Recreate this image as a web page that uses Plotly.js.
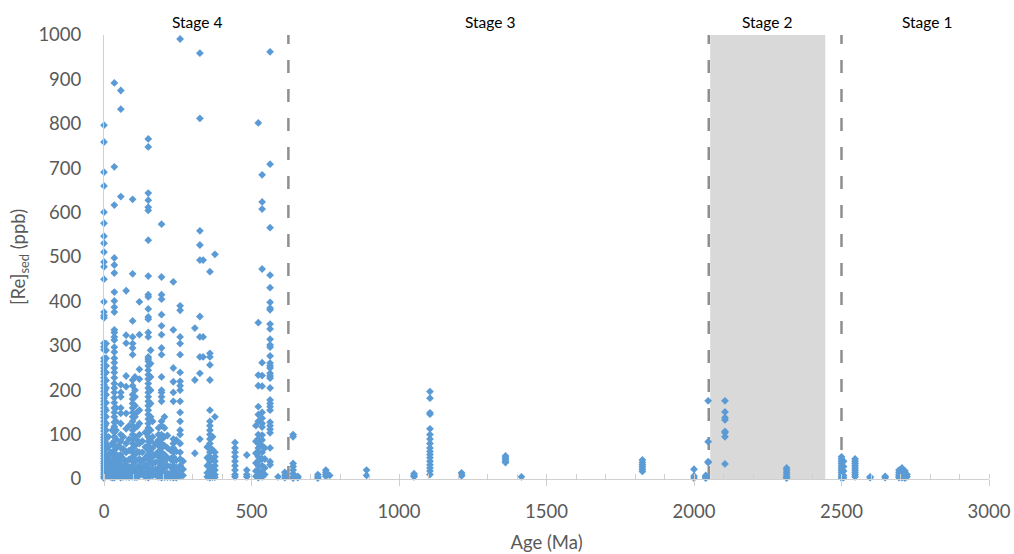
<!DOCTYPE html>
<html>
<head>
<meta charset="utf-8">
<script src="https://cdn.plot.ly/plotly-3.0.1.min.js"></script>
<style>html,body{margin:0;padding:0;background:#fff;}#chart{width:1014px;height:554px;}</style>
</head>
<body>
<div id="chart"></div>
<script>
// ---- Data: age (Ma) of each sample cluster and its [Re]sed values (ppb) ----
const stage4Ages = [0, 7, 35, 41, 57, 75, 97, 105, 120, 150, 158, 185, 195, 205, 235, 258, 308, 325, 336, 359, 376, 444, 484, 523, 536, 563,
                    3, 15, 22, 28, 48, 65, 85, 112, 130, 140, 165, 175, 215, 225, 245, 268, 350, 368, 515, 545];
const stage4Re = [
  [797, 759, 691, 660, 601, 576, 547, 531, 511, 489, 478, 450, 399, 376, 368, 363, 306, 298, 291, 272, 265, 257, 250, 243, 236, 228, 220, 212, 205, 197, 190, 182, 175, 168, 160, 152, 145, 138, 130, 122, 115, 108, 100, 94, 88, 82, 76, 70, 64, 58, 52, 46, 40, 35, 30, 25, 20, 15, 10, 5, 2],
  [305, 290, 272, 255, 240, 222, 205, 190, 172, 155, 140, 125, 110, 95, 80, 68, 55, 42, 30, 18, 8],
  [892, 703, 617, 498, 482, 464, 421, 401, 387, 376, 336, 330, 320, 313, 297, 286, 272, 262, 250, 240, 228, 215, 205, 195, 183, 172, 160, 150, 140, 128, 118, 105, 95, 85, 75, 65, 55, 45, 38, 30, 22, 15, 8, 3],
  [160, 130, 110, 90, 70, 55, 40, 28, 16, 6],
  [875, 833, 636, 212, 195, 185, 160, 148, 125, 100, 85, 70, 55, 42, 30, 20, 10, 3],
  [424, 324, 306, 232, 208, 148, 113, 80, 60, 40, 30, 20, 12, 5],
  [630, 462, 356, 320, 305, 295, 280, 223, 210, 190, 180, 170, 160, 150, 140, 130, 120, 110, 100, 90, 80, 70, 60, 50, 40, 30, 20, 12, 5],
  [230, 200, 185, 165, 140, 115, 95, 75, 55, 40, 25, 12, 4],
  [399, 325, 247, 225, 155, 125, 100, 80, 60, 45, 30, 18, 8],
  [766, 748, 644, 628, 612, 605, 538, 457, 415, 410, 383, 365, 360, 330, 320, 275, 270, 265, 255, 245, 235, 225, 215, 205, 195, 185, 175, 165, 155, 145, 135, 125, 115, 105, 95, 85, 75, 65, 55, 45, 35, 25, 15, 8, 3],
  [290, 260, 230, 200, 170, 140, 110, 85, 60, 40, 22, 8],
  [115, 100, 88, 75, 62, 50, 38, 25, 14, 5],
  [574, 455, 415, 405, 370, 345, 325, 295, 280, 230, 200, 195, 185, 175, 130, 120, 100, 90, 80, 70, 60, 50, 40, 30, 20, 10, 3],
  [140, 115, 95, 75, 55, 40, 25, 12, 4],
  [444, 336, 250, 219, 195, 175, 90, 80, 70, 60, 50, 40, 30, 20, 10, 3],
  [991, 390, 380, 320, 305, 280, 240, 220, 210, 200, 175, 150, 130, 110, 100, 80, 60, 45, 30, 18, 6],
  [340, 223, 58],
  [959, 812, 559, 527, 493, 366, 320, 275, 238, 90],
  [493, 320, 275],
  [467, 283, 275, 257, 223, 155, 130, 120, 110, 100, 90, 80, 70, 60, 50, 40, 30, 20, 10, 3],
  [506, 140, 60, 50, 40, 30, 20, 10, 4],
  [82, 70, 60, 50, 40, 30, 20, 10, 5],
  [54, 20, 10, 5],
  [802, 352, 234, 210, 163, 145, 130, 100, 90, 80, 70, 60, 50, 40, 30, 20, 10, 3],
  [685, 624, 608, 473, 262, 233, 209, 150, 137, 125, 117, 99, 88, 75, 60, 45, 30, 15, 5],
  [962, 709, 566, 459, 431, 398, 385, 381, 349, 338, 315, 302, 297, 277, 261, 255, 250, 238, 232, 227, 205, 178, 170, 163, 155, 128, 120, 112, 104, 70, 39, 32],
  [240, 200, 160, 120, 85, 55, 30, 12],
  [95, 72, 50, 33, 18, 6],
  [60, 42, 28, 15, 5],
  [110, 80, 58, 40, 24, 10, 3],
  [75, 52, 34, 20, 8],
  [95, 68, 46, 30, 16, 5],
  [120, 90, 64, 44, 28, 14, 4],
  [150, 118, 88, 62, 42, 26, 12, 4],
  [85, 60, 40, 24, 10],
  [105, 72, 48, 30, 15, 5],
  [130, 95, 70, 50, 34, 20, 8],
  [80, 56, 38, 22, 9],
  [98, 70, 48, 30, 14, 4],
  [65, 45, 28, 12, 4],
  [88, 62, 42, 26, 12, 3],
  [40, 22, 8],
  [72, 48, 30, 14, 5],
  [95, 66, 44, 26, 12, 4],
  [120, 85, 58, 36, 18, 6],
  [70, 45, 25, 10]
];
const stage3Ages = [590, 613, 641, 657, 725, 752, 765, 890, 1051, 1105, 1212, 1361, 1415, 1825, 2000, 2040, 2048];
const stage3Re = [
  [5],
  [15, 8, 3],
  [100, 95, 35, 28, 20, 12, 5, 2],
  [6, 3],
  [10, 5, 2],
  [20, 15, 10, 6],
  [8],
  [20, 8],
  [12, 8, 5],
  [197, 182, 149, 146, 113, 100, 90, 80, 70, 62, 55, 48, 40, 32, 25, 18, 10],
  [14, 10, 7],
  [52, 48, 44, 40, 37],
  [5],
  [43, 37, 32, 27, 22, 17],
  [22, 7, 2],
  [8, 5, 3, 2],
  [176, 84, 39, 37]
];
const stage2Ages = [2105, 2314];
const stage2Re = [
  [176, 151, 138, 133, 107, 104, 95, 34],
  [25, 20, 15, 10, 5, 2]
];
const stage1Ages = [2500, 2507, 2546, 2597, 2648, 2695, 2705, 2715, 2722];
const stage1Re = [
  [50, 45, 40, 35, 30, 25, 20, 15, 10, 5, 2],
  [40, 28, 18, 8, 3],
  [45, 40, 35, 30, 25, 20, 15, 10, 5],
  [5, 3],
  [6, 3],
  [20, 15, 10, 6, 3],
  [25, 18, 12, 7, 3],
  [18, 12, 6, 2],
  [10, 5]
];
const stageBoundaries = [625, 2050, 2500];   // Ma, dashed lines
const stage2Shade = [2055, 2445];            // Ma, grey band
const stageNames = ['Stage 4', 'Stage 3', 'Stage 2', 'Stage 1'];
const stageLabelAges = [315, 1308, 2247, 2790];
const xTicks = [0, 500, 1000, 1500, 2000, 2500, 3000];
const yTicks = [0, 100, 200, 300, 400, 500, 600, 700, 800, 900, 1000];

// ---- Build flat x/y ----
const xs = [], ys = [];
[[stage4Ages, stage4Re], [stage3Ages, stage3Re], [stage2Ages, stage2Re], [stage1Ages, stage1Re]].forEach(([ages, vals]) => {
  ages.forEach((a, i) => vals[i].forEach(v => { xs.push(a); ys.push(v); }));
});

const trace = {
  type: 'scatter', mode: 'markers', x: xs, y: ys, cliponaxis: false,
  marker: {symbol: 'diamond', size: 6, color: '#5B9BD5', line: {width: 0}},
  hoverinfo: 'x+y'
};

const shapes = [{
  type: 'rect', xref: 'x', yref: 'y', x0: stage2Shade[0], x1: stage2Shade[1], y0: 0, y1: 1000,
  fillcolor: '#d9d9d9', line: {width: 0}, layer: 'below'
}];
stageBoundaries.forEach(b => shapes.push({
  type: 'line', xref: 'x', yref: 'y', x0: b, x1: b, y0: 0, y1: 1000,
  line: {color: '#8f8f8f', width: 2.5, dash: '13px,16px'}, layer: 'below'
}));

const annotations = stageNames.map((n, i) => ({
  text: n, x: stageLabelAges[i], xref: 'x', y: 1.03, yref: 'paper',
  showarrow: false, xanchor: 'center', yanchor: 'middle',
  font: {family: 'Lato, sans-serif', size: 15.5, color: '#000'}
}));

const tickFont = {family: 'Lato, sans-serif', size: 18.5, color: '#595959'};
const layout = {
  width: 1014, height: 554,
  margin: {l: 104, r: 25, t: 35, b: 75},
  paper_bgcolor: '#fff', plot_bgcolor: '#fff',
  showlegend: false,
  shapes: shapes,
  annotations: annotations,
  xaxis: {
    range: [0, 3000], tickvals: xTicks, ticktext: xTicks.map(String),
    showgrid: false, zeroline: false, showline: true, linecolor: '#d0d0d0', linewidth: 1,
    ticks: 'outside', ticklen: 6, tickcolor: '#d0d0d0', tickwidth: 1,
    minor: {dtick: 100, tick0: 0, ticks: 'inside', ticklen: 5, tickcolor: '#d0d0d0', tickwidth: 1, showgrid: false},
    tickfont: tickFont, ticklabelstandoff: 10,
    title: {text: 'Age (Ma)', font: {family: 'Lato, sans-serif', size: 18.5, color: '#595959'}, standoff: 14}
  },
  yaxis: {
    range: [0, 1000], tickvals: yTicks, ticktext: yTicks.map(String),
    showgrid: false, zeroline: false, showline: true, linecolor: '#d0d0d0', linewidth: 1,
    ticks: '', tickfont: tickFont, ticklabelstandoff: 18,
    title: {text: '[Re]<sub>sed</sub> (ppb)', font: {family: 'Lato, sans-serif', size: 18.5, color: '#595959'}, standoff: 7}
  }
};

Plotly.newPlot('chart', [trace], layout, {displayModeBar: false, staticPlot: true});
</script>
</body>
</html>
